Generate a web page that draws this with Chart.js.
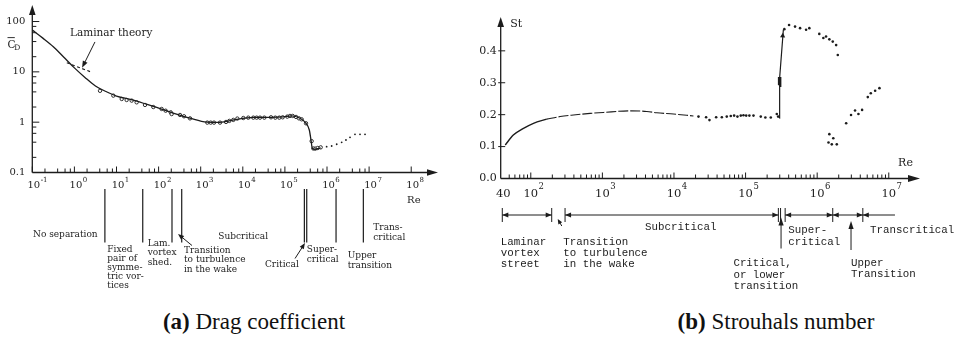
<!DOCTYPE html>
<html>
<head>
<meta charset="utf-8">
<script src="https://cdn.jsdelivr.net/npm/chart.js@4.4.1/dist/chart.umd.min.js"></script>
<style>
  html, body { margin: 0; padding: 0; background: #fff; }
  #page { position: relative; width: 963px; height: 337px; overflow: hidden; background: #fff; }
  #cdBox { position: absolute; left: 0; top: 0; }
  #stBox { position: absolute; left: 470px; top: 0; }
  .cap { position: absolute; top: 309px; font-family: "Liberation Serif", "Times New Roman", serif;
         font-size: 23px; line-height: 26px; color: #111; white-space: nowrap; transform: translateX(-50%); }
</style>
</head>
<body>
<div id="page">
  <canvas id="cdBox" width="470" height="300"></canvas>
  <canvas id="stBox" width="493" height="300"></canvas>
  <div class="cap" style="left:254px"><b>(a)</b> Drag coefficient</div>
  <div class="cap" style="left:776px"><b>(b)</b> Strouhals number</div>
</div>
<script>
// ---------- (a) drag coefficient of a circular cylinder ----------
const cdCurveRe = [0.1, 0.178, 0.316, 0.562, 1, 1.78, 3.16, 5.62, 10, 25, 75, 205, 557, 1390, 2830, 7160, 17700, 46800, 91600, 145000, 228000, 317000, 380000, 417000, 448000, 519000, 708000];
const cdCurveCd = [67.6, 46.8, 31.6, 19.5, 12.0, 7.76, 5.25, 4.07, 3.31, 2.75, 2.05, 1.55, 1.2, 1.0, 0.99, 1.14, 1.24, 1.25, 1.28, 1.34, 1.2, 0.95, 0.70, 0.44, 0.30, 0.29, 0.31];
const cdMeasRe = [4.06, 8.41, 13.3, 17.4, 22.9, 30.1, 47.5, 75, 118, 147, 194, 204, 322, 401, 557, 1435, 1725, 2070, 2870, 3990, 4790, 5960, 7410, 10300, 13500, 17800, 21300, 25600, 32500, 46800, 59300, 73800, 88500, 114000, 132000, 153000, 184000, 216000, 250000, 317000, 432000, 474000, 528000, 600000, 708000];
const cdMeasCd = [4.2, 3.37, 2.89, 2.76, 2.68, 2.48, 2.2, 2.0, 1.83, 1.69, 1.57, 1.45, 1.39, 1.31, 1.19, 0.98, 0.98, 0.98, 0.98, 1.01, 1.06, 1.11, 1.18, 1.21, 1.23, 1.23, 1.23, 1.23, 1.23, 1.25, 1.23, 1.23, 1.25, 1.29, 1.33, 1.33, 1.27, 1.19, 1.14, 0.95, 0.42, 0.30, 0.298, 0.307, 0.316];
const cdHighRe = [9.8e5, 1.29e6, 1.70e6, 2.23e6, 2.82e6, 3.52e6, 4.62e6, 6.08e6, 8.0e6];
const cdHighCd = [0.326, 0.336, 0.364, 0.398, 0.442, 0.501, 0.574, 0.574, 0.574];
const lamRe = [0.66, 2.35];
const lamCd = [15.2, 10.1];
const cdTickCd = [0.1, 1, 10, 100];
const cdTickText = ['0.1', '1', '10', '100'];
const cdExp = [-1, 0, 1, 2, 3, 4, 5, 6, 7, 8];
const cdRegimeRe = [5.3, 42, 208, 354, 2.9e5, 3.3e5, 1.64e6, 7.3e6];
const cdRegimeText = [
  ['No separation'],
  ['Fixed', 'pair of', 'symme-', 'tric vor-', 'tices'],
  ['Lam.', 'vortex', 'shed.'],
  ['Transition', 'to turbulence', 'in the wake'],
  ['Subcritical'],
  ['Critical'],
  ['Super-', 'critical'],
  ['Upper', 'transition'],
  ['Trans-', 'critical']
];

// ---------- (b) Strouhal number ----------
const stSolidRe = [44, 57, 79, 109, 167];
const stSolidSt = [0.105, 0.136, 0.157, 0.173, 0.186];
const stDashRe = [167, 257, 395, 674, 1035, 2440, 4170, 5750, 9840, 18700];
const stDashSt = [0.186, 0.194, 0.199, 0.204, 0.207, 0.212, 0.210, 0.206, 0.202, 0.196];
const stDotRe = [2.2e4, 2.81e4, 3.13e4, 3.88e4, 4.66e4, 5.46e4, 6.21e4, 6.92e4, 7.7e4, 8.57e4, 9.34e4, 1.02e5, 1.13e5, 1.29e5, 1.63e5, 1.89e5, 2.25e5, 2.73e5, 2.85e5,
  3.48e5, 4.05e5, 4.91e5, 5.77e5, 7.0e5, 7.78e5, 1.07e6, 1.22e6, 1.33e6, 1.48e6, 1.65e6, 1.84e6, 1.94e6,
  1.48e6, 1.68e6, 1.44e6, 1.6e6, 1.88e6,
  2.54e6, 2.97e6, 3.38e6, 3.77e6, 4.24e6, 5.09e6, 5.61e6, 6.45e6, 7.41e6];
const stDotSt = [0.194, 0.192, 0.183, 0.192, 0.192, 0.194, 0.196, 0.197, 0.194, 0.197, 0.198, 0.197, 0.197, 0.197, 0.194, 0.191, 0.191, 0.202, 0.194,
  0.468, 0.481, 0.476, 0.471, 0.466, 0.471, 0.453, 0.440, 0.445, 0.436, 0.429, 0.418, 0.387,
  0.139, 0.126, 0.113, 0.107, 0.107,
  0.173, 0.199, 0.213, 0.202, 0.215, 0.255, 0.267, 0.275, 0.283];
const stJumpRe = [2.97e5, 2.99e5, 3.37e5];
const stJumpSt = [0.189, 0.315, 0.466];
const stBlockRe = [2.98e5, 2.99e5];
const stBlockSt = [0.292, 0.318];
const stHeadRe = [3.3e5];
const stHeadSt = [0.447];
const stTickSt = [0, 0.1, 0.2, 0.3, 0.4];
const stExp = [2, 3, 4, 5, 6, 7];
const stBarRe = [40, 196, 301, 2.87e5, 3.08e5, 3.57e5, 1.65e6, 4.34e6];
const stSpanRe = [[40, 196], [301, 2.87e5], [3.57e5, 1.65e6], [1.65e6, 1.22e7]];
const stRegimeText = [
  ['Laminar', 'vortex', 'street'],
  ['Transition', 'to turbulence', 'in the wake'],
  ['Subcritical'],
  ['Super-', 'critical'],
  ['Transcritical'],
  ['Critical,', 'or lower', 'transition'],
  ['Upper', 'Transition']
];

const INK = '#1c1c1c';
const SERIF = '"DejaVu Serif", serif';
const MONO = '"Liberation Mono", monospace';
const pts = (xs, ys) => xs.map((v, i) => ({ x: v, y: ys[i] }));

function seg(ctx, x1, y1, x2, y2) { ctx.beginPath(); ctx.moveTo(x1, y1); ctx.lineTo(x2, y2); ctx.stroke(); }
function head(ctx, x, y, ang, len, half) {
  ctx.save(); ctx.translate(x, y); ctx.rotate(ang);
  ctx.beginPath(); ctx.moveTo(0, 0); ctx.lineTo(-len, -half); ctx.lineTo(-len, half); ctx.closePath(); ctx.fill();
  ctx.restore();
}
function arrow(ctx, x1, y1, x2, y2, len, half) {
  const a = Math.atan2(y2 - y1, x2 - x1);
  seg(ctx, x1, y1, x2 - Math.cos(a) * len * 0.7, y2 - Math.sin(a) * len * 0.7);
  head(ctx, x2, y2, a, len, half);
}
function power(ctx, x, y, exp, size, sup) {
  ctx.font = size + 'px ' + SERIF;
  ctx.textAlign = 'left'; ctx.textBaseline = 'alphabetic';
  const w = ctx.measureText('10').width;
  ctx.fillText('10', x - w / 2, y);
  ctx.font = sup + 'px ' + SERIF;
  ctx.fillText(String(exp), x + w / 2 + 0.5, y - size * 0.62);
}
function block(ctx, lines, x, y, lh) {
  lines.forEach((t, i) => ctx.fillText(t, x, y + i * lh));
}

// axes, ticks and regime notes of the drag plot
const cdFrame = {
  id: 'cdFrame',
  afterDraw(chart) {
    const { ctx, chartArea: ca, scales: { x: xs, y: ys } } = chart;
    const X = v => xs.getPixelForValue(v), Y = v => ys.getPixelForValue(v);
    ctx.save();
    ctx.strokeStyle = INK; ctx.fillStyle = INK;
    ctx.lineWidth = 1.3;
    seg(ctx, ca.left, ca.bottom, ca.left, ca.top + 8);
    head(ctx, ca.left, ca.top, -Math.PI / 2, 10, 3.3);
    seg(ctx, ca.left, ca.bottom, ca.right - 8, ca.bottom);
    head(ctx, ca.right, ca.bottom, 0, 11, 3.3);

    ctx.lineWidth = 1;
    cdExp.forEach(e => {
      const p = X(Math.pow(10, e));
      seg(ctx, p, ca.bottom, p, ca.bottom - 6);
      if (e < 7) [2, 4, 6, 8].forEach(m => { const q = X(m * Math.pow(10, e)); seg(ctx, q, ca.bottom, q, ca.bottom - 4); });
      power(ctx, p + 1.5, ca.bottom + 15.8, e, 10, 7);
    });
    cdTickCd.forEach((v, i) => {
      const p = Y(v);
      if (i > 0) seg(ctx, ca.left, p, ca.left + 7, p);
      if (i < 3) [2, 4, 6, 8].forEach(m => { const q = Y(m * v); seg(ctx, ca.left, q, ca.left + 4, q); });
      ctx.font = '10px ' + SERIF; ctx.textAlign = 'right'; ctx.textBaseline = 'middle';
      ctx.fillText(cdTickText[i], ca.left - 7, p);
    });
    // axis titles
    ctx.textAlign = 'left'; ctx.textBaseline = 'alphabetic';
    ctx.font = '10.5px ' + SERIF; ctx.fillText('C', 7.5, 47.5);
    ctx.lineWidth = 0.9; seg(ctx, 7.5, 37.6, 14.8, 37.6);
    ctx.font = '7.5px ' + SERIF; ctx.fillText('D', 14.2, 49.5);
    ctx.font = '10px ' + SERIF; ctx.textBaseline = 'middle';
    ctx.fillText('Re', X(8e7), ca.bottom + 27.5);

    // laminar theory note
    ctx.font = '10.5px ' + SERIF;
    ctx.fillText('Laminar theory', X(0.785), Y(59));
    ctx.lineWidth = 1;
    arrow(ctx, X(3.08), Y(39.3), X(1.52), Y(12.0), 7, 2.6);

    // regime boundaries and names
    ctx.lineWidth = 1.2;
    cdRegimeRe.forEach(r => seg(ctx, X(r), ca.bottom + 16.5, X(r), ca.bottom + 70));
    ctx.font = '9px ' + SERIF; ctx.textBaseline = 'middle'; ctx.textAlign = 'left';
    const at = [[0.104, 235, 9], [6.04, 250, 9], [55, 243.3, 9.7], [401, 250.2, 9.5], [2620, 237, 9],
                [33600, 264.3, 9], [3.3e5, 249.5, 10], [3.1e6, 256, 10], [1.26e7, 227.8, 9.6]];
    cdRegimeText.forEach((lines, i) => block(ctx, lines, X(at[i][0]), at[i][1], at[i][2]));
    ctx.lineWidth = 1;
    arrow(ctx, X(621), 245.5, X(289), 234, 6, 2.4);
    arrow(ctx, X(1.74e5), 258.5, X(3.0e5), 243, 6, 2.4);
    ctx.restore();
  }
};

// axes, ticks and regime bar of the Strouhal plot
const stFrame = {
  id: 'stFrame',
  afterDraw(chart) {
    const { ctx, chartArea: ca, scales: { x: xs, y: ys } } = chart;
    const X = v => xs.getPixelForValue(v), Y = v => ys.getPixelForValue(v);
    ctx.save();
    ctx.strokeStyle = INK; ctx.fillStyle = INK;
    ctx.lineWidth = 1.3;
    seg(ctx, ca.left, ca.bottom, ca.left, ca.top + 8);
    head(ctx, ca.left, ca.top, -Math.PI / 2, 10, 3.3);
    seg(ctx, ca.left, ca.bottom, ca.right - 8, ca.bottom);
    head(ctx, ca.right, ca.bottom, 0, 12, 3.5);

    ctx.lineWidth = 1;
    stExp.forEach(e => {
      const p = X(Math.pow(10, e));
      seg(ctx, p, ca.bottom, p, ca.bottom - 6);
      if (e < 7) [2, 3, 4, 5, 6, 7, 8, 9].forEach(m => { const q = X(m * Math.pow(10, e)); seg(ctx, q, ca.bottom, q, ca.bottom - 4); });
      power(ctx, p, ca.bottom + 18, e, 11.5, 8.5);
    });
    [50, 60, 70, 80, 90].forEach(v => { const q = X(v); seg(ctx, q, ca.bottom, q, ca.bottom - 4); });
    ctx.font = '11.5px ' + SERIF; ctx.textAlign = 'center'; ctx.textBaseline = 'alphabetic';
    ctx.fillText('40', X(40) + 1, ca.bottom + 18);
    stTickSt.forEach(v => {
      const p = Y(v);
      if (v > 0) seg(ctx, ca.left - 2.5, p, ca.left + 4.5, p);
      ctx.font = '11px ' + SERIF; ctx.textAlign = 'right'; ctx.textBaseline = 'middle';
      ctx.fillText(v.toFixed(1), ca.left - 4, p);
    });
    ctx.font = '11px ' + SERIF; ctx.textAlign = 'left'; ctx.textBaseline = 'middle';
    ctx.fillText('St', ca.left + 9.5, 24);
    ctx.fillText('Re', X(1.35e7), ca.bottom - 15.5);

    // regime bar
    const yb = 215;
    ctx.lineWidth = 1;
    stSpanRe.forEach(([a, b]) => seg(ctx, X(a), yb, X(b), yb));
    stBarRe.forEach(r => seg(ctx, X(r), yb - 7, X(r), yb + 7));
    [[40, 1], [196, 0], [301, 1], [2.87e5, 0], [3.57e5, 1], [1.65e6, 0], [1.65e6, 1], [4.34e6, 0], [4.34e6, 1]]
      .forEach(([r, left]) => head(ctx, X(r), yb, left ? Math.PI : 0, 6, 2.6));
    arrow(ctx, X(271), 226, X(238), 219, 5, 2.2);
    arrow(ctx, X(3.13e5), 248.5, X(3.13e5), 217.5, 8, 2.6);
    arrow(ctx, X(2.97e6), 250, X(2.97e6), 221, 8, 2.6);

    ctx.font = '10.8px ' + MONO; ctx.textAlign = 'left'; ctx.textBaseline = 'middle';
    const at = [[38.1, 242, 11], [285, 242, 11], [3950, 227, 11], [3.96e5, 230.3, 11.5],
                [5.48e6, 230, 11], [6.76e4, 263.3, 11.5], [2.97e6, 263.3, 11]];
    stRegimeText.forEach((lines, i) => block(ctx, lines, X(at[i][0]), at[i][1], at[i][2]));
    ctx.restore();
  }
};

const common = {
  responsive: false, animation: false, events: [],
  plugins: { legend: { display: false }, tooltip: { enabled: false }, title: { display: false } }
};

new Chart(document.getElementById('cdBox'), {
  type: 'scatter',
  data: {
    datasets: [
      { data: pts(cdCurveRe, cdCurveCd), showLine: true, borderColor: INK, borderWidth: 1.3, pointRadius: 0, cubicInterpolationMode: 'monotone' },
      { data: pts(lamRe, lamCd), showLine: true, borderColor: INK, borderWidth: 1.1, borderDash: [3, 2.5], pointRadius: 0 },
      { data: pts(cdHighRe, cdHighCd), showLine: false, pointRadius: 0.9, pointBorderWidth: 0, backgroundColor: INK },
      { data: pts(cdMeasRe, cdMeasCd), showLine: false, pointRadius: 1.7, pointBorderWidth: 0.9, borderColor: INK, backgroundColor: '#fff' }
    ]
  },
  options: Object.assign({}, common, {
    layout: { padding: { left: 32.3, right: 32, top: 5, bottom: 127.5 } },
    scales: {
      x: { type: 'logarithmic', min: 0.1, max: 4.33e8, bounds: 'data', display: false },
      y: { type: 'logarithmic', min: 0.1, max: 213, bounds: 'data', display: false }
    }
  }),
  plugins: [cdFrame]
});

new Chart(document.getElementById('stBox'), {
  type: 'scatter',
  data: {
    datasets: [
      { data: pts(stSolidRe, stSolidSt), showLine: true, borderColor: INK, borderWidth: 1.4, pointRadius: 0, cubicInterpolationMode: 'monotone' },
      { data: pts(stDashRe, stDashSt), showLine: true, borderColor: INK, borderWidth: 1.1, borderDash: [10, 2], pointRadius: 0, cubicInterpolationMode: 'monotone' },
      { data: pts(stDotRe, stDotSt), showLine: false, pointRadius: 1.3, pointBorderWidth: 0, backgroundColor: INK },
      { data: pts(stJumpRe, stJumpSt), showLine: true, borderColor: INK, borderWidth: 1.2, pointRadius: 0 },
      { data: pts(stBlockRe, stBlockSt), showLine: true, borderColor: INK, borderWidth: 3.5, pointRadius: 0 },
      { data: pts(stHeadRe, stHeadSt), showLine: false, pointStyle: 'triangle', pointRadius: 3, pointRotation: 4, pointBorderWidth: 0, backgroundColor: INK }
    ]
  },
  options: Object.assign({}, common, {
    layout: { padding: { left: 30.7, right: 43, top: 17, bottom: 121.5 } },
    scales: {
      x: { type: 'logarithmic', min: 38, max: 2.73e7, bounds: 'data', display: false },
      y: { type: 'linear', min: 0, max: 0.506, bounds: 'data', display: false }
    }
  }),
  plugins: [stFrame]
});
</script>
</body>
</html>
